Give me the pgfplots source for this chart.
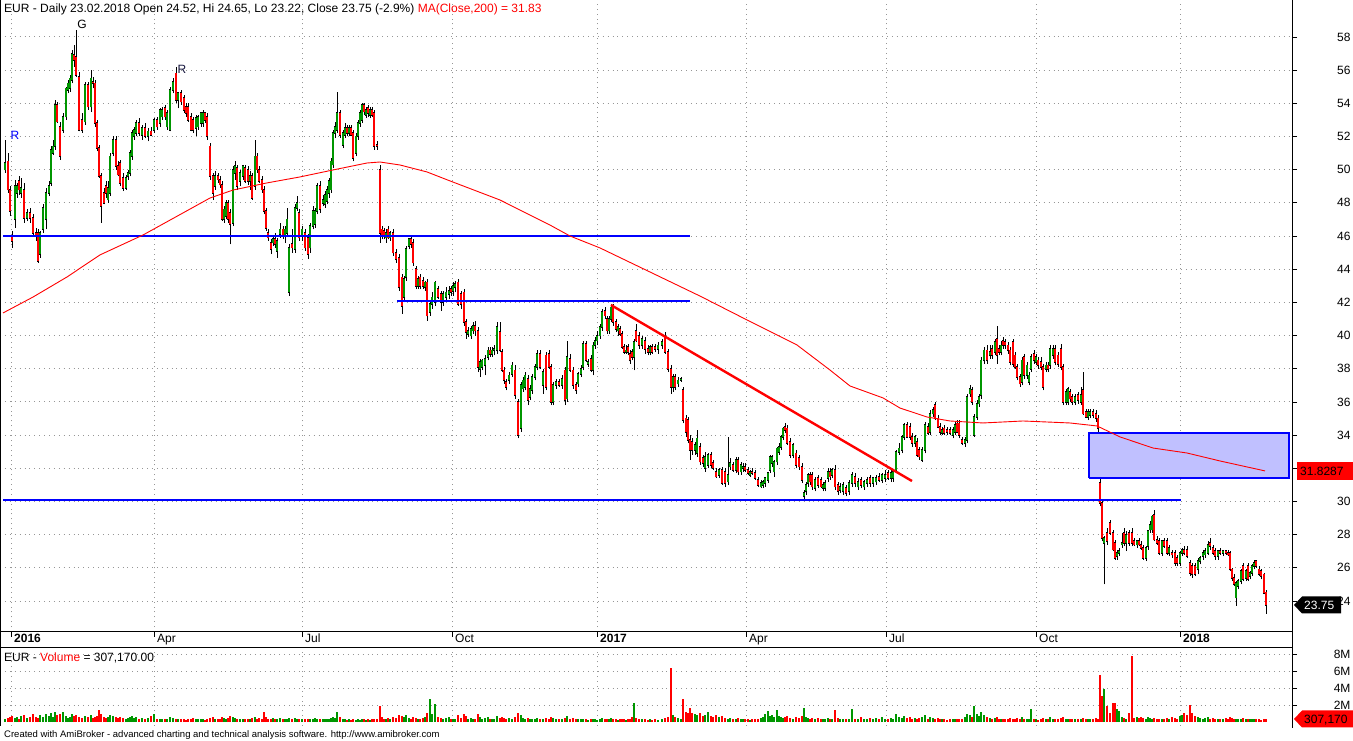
\documentclass[border=0pt]{standalone}
\usepackage{pgfplots}
\pgfplotsset{compat=1.18}
\usepackage{pgfplotstable}
\usepackage{etoolbox}
\usepackage{fontspec}
\setmainfont{Liberation Sans}
\definecolor{upg}{RGB}{0,150,0}
\definecolor{dnr}{RGB}{255,0,0}
\definecolor{boxfill}{RGB}{192,192,255}
\definecolor{gridc}{RGB}{150,150,150}
\definecolor{lblc}{RGB}{20,20,60}
\newcommand\fs{\fontsize{12}{14}\selectfont}
\pgfplotstableread{
x o h l c v
5 50.0 51.8 49.8 50.4 0.3
8 50.5 51.0 48.6 48.8 0.5
10 48.8 49.0 47.2 47.5 0.6
12 46.0 46.3 45.3 45.7 0.7
15 47.0 49.4 46.5 49.0 0.5
17 48.6 49.2 48.3 49.0 0.6
19 49.3 49.6 48.5 48.8 0.4
21 48.6 49.5 48.3 48.9 0.7
24 48.8 49.2 46.8 47.1 0.8
27 47.1 47.6 46.9 47.4 0.5
30 47.4 47.7 46.8 47.1 0.6
33 47.1 47.3 46.0 46.2 0.9
36 46.2 46.5 45.7 46.0 0.6
38 46.2 46.4 44.4 44.5 0.5
40 44.9 46.3 44.7 46.2 0.8
43 46.4 47.9 46.2 47.7 0.6
46 47.0 48.9 46.4 48.6 0.9
49 48.6 49.3 48.4 49.0 0.7
51 49.2 51.4 49.0 51.2 1.0
53 51.0 51.8 50.9 51.4 0.6
55 51.4 54.2 51.2 53.9 1.2
57 53.9 54.1 52.8 52.9 0.8
60 52.6 52.9 50.6 50.8 0.9
63 52.4 53.4 52.2 53.2 1.2
66 53.2 55.0 53.0 54.9 0.7
68 54.8 55.4 54.6 55.2 0.5
70 54.9 55.7 54.7 55.5 0.6
72 55.4 57.2 55.2 57.0 0.9
74 56.9 57.5 56.2 56.6 0.7
76 56.8 58.4 55.6 55.7 0.8
79 55.6 55.9 52.3 52.4 0.6
82 53.0 53.4 52.2 52.4 0.5
85 52.9 55.3 52.7 55.1 0.7
88 55.1 55.3 53.6 53.8 0.6
91 53.8 56.0 53.5 55.5 0.8
93 55.3 55.6 54.9 55.2 0.5
95 55.2 55.4 52.6 52.8 0.6
97 52.8 53.0 51.1 51.3 0.7
99 51.3 51.5 49.5 49.6 1.4
101 49.6 49.8 46.8 47.8 0.9
104 48.6 48.9 47.9 48.0 0.6
106 49.0 49.3 48.3 48.6 0.5
108 48.2 49.3 48.0 48.9 0.6
110 48.6 51.0 48.4 50.8 0.8
113 51.0 52.0 50.8 51.8 0.7
116 51.8 52.0 50.0 50.2 0.6
118 50.2 50.5 49.6 49.7 0.5
120 50.4 50.6 49.0 49.2 0.6
123 49.5 49.8 48.7 48.9 0.5
126 48.9 49.7 48.8 49.5 0.4
128 49.6 50.0 49.4 49.8 0.5
130 49.8 51.2 49.6 51.0 0.6
132 50.8 52.4 50.6 52.2 0.7
134 52.0 52.6 51.8 52.4 0.5
136 52.2 53.0 52.0 52.8 0.6
139 52.8 53.1 52.0 52.2 0.4
142 52.1 52.7 51.8 52.5 0.5
145 52.5 52.8 51.9 52.0 0.4
148 52.0 52.5 51.7 52.3 0.5
151 52.3 52.6 52.0 52.1 0.7
154 52.4 53.1 52.2 53.0 0.9
157 53.0 53.2 52.4 52.6 0.4
160 52.8 53.7 52.6 53.6 0.3
162 53.2 53.8 53.0 53.6 0.4
165 53.7 53.9 53.0 53.2 0.3
167 52.6 53.6 52.4 53.4 0.4
170 52.4 55.0 52.3 54.8 0.6
173 54.8 55.5 54.6 55.3 0.5
176 55.8 56.2 54.0 54.2 0.4
178 54.2 54.7 53.7 54.6 0.3
181 54.6 54.8 53.9 54.1 0.4
184 54.3 54.5 53.4 53.6 0.3
186 53.8 54.0 53.2 53.4 0.2
188 53.8 54.0 52.9 53.0 0.4
191 53.2 53.4 52.3 52.4 0.3
193 53.0 53.2 52.2 52.4 0.5
196 52.5 53.3 52.0 53.1 0.4
198 52.6 53.3 52.4 53.2 0.3
201 52.8 53.5 52.6 53.4 0.4
203 52.8 53.6 52.6 53.4 0.3
205 53.4 53.5 52.8 53.0 0.2
207 53.2 53.4 51.8 52.0 0.4
210 51.4 51.6 49.4 49.6 0.5
213 49.6 49.8 48.2 48.6 0.6
215 49.0 49.9 48.8 49.6 0.4
218 49.6 49.8 49.2 49.4 0.3
220 49.4 49.6 48.9 49.1 0.4
222 49.1 49.3 46.9 47.0 0.6
224 47.0 47.8 46.8 47.6 0.5
226 47.2 48.2 47.0 48.0 0.4
228 48.0 48.2 46.8 47.0 0.5
230 47.4 47.6 45.5 46.7 0.7
233 46.8 50.2 46.6 50.0 0.6
235 49.8 50.5 49.4 50.2 0.5
237 50.1 50.3 48.8 49.0 0.4
240 49.3 50.0 49.0 49.8 0.3
243 49.6 50.3 49.4 50.2 0.4
245 50.1 50.3 49.2 49.3 0.3
248 50.0 50.2 49.1 49.3 0.4
250 49.3 49.9 48.8 49.6 0.3
252 49.6 49.8 48.2 48.3 0.5
255 49.0 51.8 48.8 50.8 0.6
257 50.8 51.0 49.8 50.0 0.4
259 50.0 50.2 49.2 49.3 0.5
262 49.4 49.6 48.6 48.8 0.4
264 48.8 49.0 47.3 47.5 1.2
266 47.5 47.7 46.3 46.5 0.6
268 46.2 46.4 45.7 45.9 0.4
271 45.6 45.8 44.9 45.2 0.3
273 45.6 46.0 45.4 45.8 0.5
275 45.8 46.2 45.3 45.5 0.3
277 45.1 45.9 44.7 45.7 0.4
280 46.1 46.8 45.9 46.4 0.5
283 46.4 46.6 45.8 46.0 0.3
285 46.0 46.6 45.6 46.4 0.4
287 46.2 47.7 46.0 47.0 0.3
289 42.6 45.5 42.4 45.3 0.5
292 45.5 46.4 45.0 45.3 0.4
295 45.2 47.9 45.0 47.7 0.5
297 47.7 48.4 47.5 48.0 0.4
299 47.4 47.6 45.7 45.9 0.3
302 46.0 46.6 45.7 46.4 0.4
305 46.2 46.4 45.1 45.3 0.3
308 45.9 46.1 44.6 44.9 0.4
310 45.3 46.8 45.0 46.6 0.3
313 46.6 47.8 46.4 47.5 0.4
315 46.7 47.7 46.5 47.5 0.5
317 47.5 49.2 47.3 49.0 0.3
320 49.0 49.3 47.4 47.6 0.4
323 48.0 48.5 47.8 48.2 0.3
325 47.9 48.7 47.7 48.5 0.4
327 48.1 49.0 47.9 48.8 0.3
329 48.6 49.5 48.3 49.3 0.4
331 48.8 50.7 48.6 50.5 0.5
333 50.3 52.4 50.1 52.2 0.6
335 52.2 52.9 51.9 52.6 0.5
337 52.4 54.7 52.2 53.4 1.2
340 53.4 53.6 51.9 52.1 0.6
343 51.5 52.4 51.3 52.2 0.4
345 52.1 52.8 51.9 52.5 0.3
347 52.5 52.7 52.0 52.2 0.2
349 52.2 52.7 52.0 52.5 0.3
351 52.5 52.7 52.0 52.1 0.2
353 52.2 52.4 50.5 50.7 0.3
356 51.0 52.2 50.8 52.0 0.2
358 52.0 53.0 51.8 52.8 0.3
360 52.8 53.6 52.6 53.4 0.2
362 53.0 54.0 52.8 53.9 0.4
364 53.9 54.0 53.3 53.5 0.3
366 53.3 53.8 53.1 53.6 0.2
368 53.7 53.9 53.2 53.4 0.3
370 53.3 53.8 53.1 53.6 0.2
372 53.6 53.8 53.2 53.3 0.3
374 53.4 53.6 51.2 51.4 0.4
377 51.5 51.7 51.2 51.4 0.3
380 50.0 50.3 45.6 46.2 1.9
382 46.4 46.6 45.8 46.0 0.6
384 46.3 46.5 45.8 46.0 0.4
386 45.9 46.4 45.6 46.2 0.3
388 46.4 46.6 45.8 45.9 0.5
390 45.9 46.3 45.7 46.2 0.4
393 46.2 46.4 44.8 45.0 0.6
396 45.0 45.2 44.4 44.6 0.5
399 44.7 44.9 42.7 42.9 0.8
402 43.5 43.7 41.3 41.8 0.7
404 42.3 43.6 42.0 43.4 0.6
406 43.5 45.4 43.3 45.2 0.8
409 45.4 45.9 45.2 45.8 0.5
411 45.8 46.0 45.3 45.5 0.4
413 45.6 45.8 44.2 44.4 0.6
416 44.0 44.2 42.8 43.0 0.5
418 43.0 43.6 42.8 43.4 0.4
420 43.5 43.7 42.8 43.0 0.4
423 43.3 43.5 42.8 43.0 0.5
425 42.9 43.3 42.7 43.2 0.6
427 43.2 43.4 40.9 41.2 1.0
430 41.4 42.0 41.2 41.9 2.7
432 41.9 42.6 41.6 42.3 0.9
435 42.0 43.3 41.8 43.2 2.1
438 42.8 43.0 42.2 42.3 0.6
441 42.5 42.7 41.5 42.0 0.5
443 42.0 42.7 41.8 42.5 0.4
446 42.3 42.9 42.0 42.6 0.5
449 42.5 43.0 42.2 42.7 0.6
451 42.8 43.0 42.4 42.6 0.4
453 42.7 43.2 42.4 43.0 0.3
455 42.9 43.3 42.6 43.1 0.4
458 43.2 43.4 41.8 41.9 0.8
461 42.5 42.7 41.6 41.9 0.5
464 42.6 42.8 40.6 40.8 0.9
466 40.8 41.0 39.8 40.2 0.7
468 40.1 40.5 39.9 40.3 0.4
471 40.0 40.6 39.8 40.4 0.5
473 40.3 40.8 40.1 40.6 0.3
475 40.6 40.9 40.0 40.3 0.4
478 40.3 40.5 37.8 38.1 0.9
480 38.0 38.6 37.5 38.4 0.6
482 38.1 38.6 37.9 38.5 0.4
485 38.2 38.8 37.6 38.6 0.5
488 38.7 39.3 38.5 39.1 0.6
490 39.1 39.3 38.7 38.9 0.4
492 38.9 39.3 38.7 39.1 0.3
494 39.1 39.4 38.8 39.2 0.4
497 39.1 40.8 38.9 40.5 0.7
500 40.2 40.8 39.0 39.1 0.5
502 39.0 39.2 37.8 37.9 0.6
504 37.9 38.1 37.1 37.3 0.5
506 37.2 37.4 36.7 36.9 0.4
509 37.3 37.8 37.1 37.6 0.5
512 37.7 38.4 37.5 38.2 0.4
515 37.9 38.2 36.2 36.4 0.6
518 36.0 36.2 33.8 34.0 1.0
521 34.4 37.2 34.2 37.0 0.8
523 36.8 37.5 36.6 37.3 0.5
525 36.9 37.8 36.7 37.6 0.4
528 37.4 37.6 35.8 36.1 0.5
530 36.3 37.0 36.1 36.8 0.4
532 36.7 37.7 36.5 37.5 0.3
535 37.5 38.3 37.3 38.1 0.4
537 38.1 39.1 37.9 38.9 0.5
540 38.9 39.1 38.0 38.1 0.4
543 37.0 38.0 36.5 37.8 0.3
546 38.8 39.0 36.7 36.9 0.5
549 38.9 39.1 38.0 38.1 0.4
551 38.1 38.3 35.8 36.0 0.6
553 36.0 37.2 35.8 37.0 0.5
556 37.0 37.4 36.8 37.2 0.4
559 37.2 37.4 36.9 37.0 0.3
562 37.0 37.6 36.8 37.4 0.4
565 37.9 38.1 35.8 36.1 0.5
567 36.2 39.7 36.0 38.7 0.7
570 38.6 38.9 37.8 37.9 0.4
573 37.9 38.1 36.8 37.0 0.5
576 37.0 37.2 36.5 36.7 0.3
578 37.1 37.8 36.9 37.7 0.4
581 37.7 38.2 37.5 38.0 0.3
583 38.1 39.7 37.9 39.5 0.4
586 39.5 39.7 38.4 38.5 0.3
588 38.3 38.6 38.1 38.4 0.2
591 38.6 38.8 37.8 37.9 0.3
593 37.9 39.6 37.6 39.4 0.4
595 39.4 39.9 39.2 39.7 0.3
597 39.7 40.3 39.4 40.0 0.2
600 40.0 40.7 39.8 40.5 0.4
602 40.5 41.6 40.3 41.4 0.5
605 41.5 41.7 41.0 41.2 0.3
607 41.0 41.2 40.1 40.3 0.4
609 40.3 41.2 40.1 41.0 0.3
611 41.0 41.9 40.8 41.7 0.5
613 41.8 41.9 40.6 40.8 0.4
616 40.8 41.0 40.2 40.4 0.3
618 40.3 40.7 40.0 40.5 0.2
620 40.4 40.6 40.0 40.1 0.3
622 40.1 40.3 39.2 39.3 0.4
624 39.3 39.5 38.9 39.0 0.3
626 39.0 39.4 38.9 39.1 0.2
628 39.3 39.5 38.8 39.0 0.3
630 38.9 39.1 38.3 38.5 0.4
632 39.0 39.2 38.5 38.7 0.6
634 38.7 39.8 37.9 39.6 2.2
636 40.3 40.7 39.6 39.7 0.5
639 40.0 40.2 39.2 39.4 0.3
642 39.4 40.0 39.2 39.8 0.4
645 39.7 39.9 38.9 39.2 0.3
648 39.2 39.4 38.8 39.0 0.2
650 39.0 39.4 38.8 39.3 0.3
652 39.3 39.5 38.9 39.0 0.2
655 39.3 39.5 39.0 39.2 0.3
658 39.2 39.6 38.9 39.4 0.2
662 39.4 39.8 39.2 39.6 0.3
665 40.0 40.2 38.9 39.0 0.5
668 39.0 39.2 37.8 38.0 0.6
671 38.0 38.2 36.5 36.9 6.3
673 36.9 37.7 36.6 37.5 0.8
675 37.5 37.7 36.7 36.9 0.6
678 37.1 37.5 36.9 37.3 0.5
681 37.3 37.5 37.2 37.4 0.3
683 36.7 36.9 34.7 34.9 2.7
686 35.0 35.2 33.9 34.2 1.2
688 34.9 35.1 33.5 33.7 1.0
690 33.7 34.0 32.5 33.1 1.6
692 33.6 33.8 32.8 33.1 1.1
695 33.1 33.6 32.8 33.4 0.9
697 32.9 34.3 32.7 33.8 0.8
700 33.3 33.5 32.2 32.4 1.0
703 32.6 32.8 32.1 32.3 0.7
705 32.0 33.0 31.8 32.7 0.8
708 32.2 32.9 32.0 32.8 1.2
711 32.8 33.0 32.0 32.2 0.7
713 32.3 32.5 31.9 32.0 0.6
716 31.8 32.0 31.4 31.5 0.8
719 31.6 32.0 31.4 31.9 0.6
722 31.9 32.1 31.0 31.1 0.7
725 31.8 32.0 30.9 31.1 0.5
728 31.2 33.9 31.0 31.6 0.4
730 32.1 32.6 31.9 32.3 0.5
733 32.2 32.4 31.8 31.9 0.4
736 31.9 32.7 31.7 32.5 0.3
738 32.5 32.7 31.6 31.8 0.5
741 31.8 32.4 31.6 32.2 0.4
743 32.0 32.3 31.8 32.1 0.3
745 32.1 32.3 31.8 31.9 0.4
748 31.9 32.1 31.6 31.7 0.3
750 31.6 31.9 31.5 31.8 0.2
752 31.8 32.0 31.6 31.7 0.3
755 31.7 31.9 31.3 31.4 0.4
758 31.3 31.5 30.9 31.0 0.3
761 30.9 31.3 30.8 31.1 0.5
763 31.0 31.3 30.8 31.2 0.6
765 31.1 31.5 30.9 31.4 0.9
768 31.3 31.8 31.1 31.7 1.3
770 31.9 32.8 31.7 32.7 0.7
772 32.3 32.8 32.1 32.7 0.8
774 31.8 32.5 31.5 32.4 0.6
777 32.4 33.3 32.2 33.2 1.4
779 33.0 33.5 32.8 33.3 0.7
781 33.3 34.0 33.1 33.9 0.6
783 33.9 34.5 33.7 34.4 0.5
785 34.5 34.7 34.1 34.3 0.6
787 34.4 34.6 33.4 33.5 0.7
790 33.6 33.8 32.6 32.8 0.5
793 32.8 33.5 32.6 33.4 0.4
796 32.9 33.1 32.0 32.2 0.6
799 32.6 32.8 31.9 32.1 0.5
802 32.1 32.3 31.1 31.3 0.7
804 30.3 30.7 30.0 30.5 1.7
806 30.6 31.2 30.4 31.0 0.6
808 31.1 31.7 30.9 31.6 0.5
810 31.6 31.8 31.0 31.2 0.4
812 31.6 31.8 30.7 30.9 0.5
815 30.8 31.5 30.6 31.3 0.4
818 31.4 31.6 30.8 31.0 0.5
821 31.3 31.5 30.8 30.9 0.4
823 30.8 31.2 30.6 31.0 0.3
825 30.8 31.3 30.6 31.1 0.4
828 31.4 32.0 31.2 31.8 0.5
830 31.8 32.0 31.3 31.5 0.3
832 31.6 32.0 31.4 31.9 0.4
835 31.9 32.2 30.7 30.9 1.4
838 31.0 31.2 30.4 30.6 0.5
840 30.7 31.1 30.5 30.9 0.4
843 30.6 31.2 30.4 31.0 0.3
846 30.8 31.0 30.3 30.5 0.4
849 30.6 31.3 30.4 31.1 0.3
852 31.1 31.8 30.9 31.6 1.5
855 31.5 31.7 30.9 31.1 0.3
858 30.9 31.4 30.7 31.2 0.4
861 31.3 31.5 30.8 31.0 0.6
864 30.9 31.3 30.7 31.2 0.4
867 31.1 31.5 30.9 31.3 0.3
870 31.4 31.6 30.9 31.1 0.5
873 31.1 31.5 30.9 31.4 0.4
876 31.2 31.6 31.0 31.4 0.5
879 31.5 31.7 31.2 31.3 0.4
882 31.3 31.7 31.1 31.6 0.6
885 31.4 31.9 31.2 31.6 0.4
888 31.7 31.9 31.3 31.4 0.3
891 31.4 31.9 31.2 31.7 0.5
893 31.4 31.9 31.2 31.8 0.4
896 31.9 33.1 31.7 33.0 0.9
899 33.0 33.5 32.8 33.2 0.6
902 33.1 34.0 32.9 33.9 0.5
904 33.9 34.7 33.7 34.6 0.7
907 34.6 34.8 33.8 33.9 0.5
910 34.5 34.7 33.7 33.9 0.6
912 33.9 34.1 33.3 33.5 0.4
915 33.5 34.0 33.3 33.9 0.5
917 33.6 33.8 32.7 32.8 0.4
919 33.1 33.3 32.5 32.7 0.5
922 32.5 33.3 32.4 33.1 0.6
925 33.1 34.8 32.9 34.6 0.8
928 34.5 34.7 34.0 34.1 0.4
930 34.2 35.5 34.0 35.3 0.6
933 35.3 35.7 35.1 35.5 0.5
935 35.8 36.0 34.9 35.0 0.4
938 35.0 35.2 34.4 34.5 0.5
940 34.5 34.7 34.0 34.2 0.3
942 34.1 34.5 34.0 34.3 0.4
944 34.4 34.6 34.0 34.1 0.3
947 34.3 34.5 34.0 34.2 0.2
950 34.3 34.5 34.0 34.1 0.3
953 34.0 34.5 33.8 34.3 0.4
955 34.2 34.8 34.0 34.6 0.3
957 34.7 34.9 34.1 34.2 0.4
959 34.7 34.9 33.8 34.0 0.3
962 33.7 33.9 33.4 33.5 0.4
965 33.5 33.9 33.3 33.7 0.6
967 33.7 36.5 33.5 36.3 0.9
970 36.5 37.0 36.3 36.8 0.8
972 36.7 36.9 35.8 36.0 0.6
974 34.0 35.3 33.9 35.1 1.9
977 35.1 36.1 34.9 35.9 0.9
979 35.9 36.5 35.7 36.3 0.7
981 36.4 38.7 36.2 38.5 1.2
984 38.5 39.3 38.3 39.1 0.8
987 39.1 39.4 38.3 38.5 0.6
990 38.8 39.4 38.6 39.0 0.5
992 39.2 39.4 38.6 38.8 0.4
995 39.0 39.8 38.8 39.6 0.5
997 39.8 40.6 38.3 38.8 0.6
999 39.2 39.4 38.8 39.0 0.4
1001 39.0 39.7 38.8 39.4 0.3
1003 39.7 39.9 39.2 39.4 0.4
1005 39.6 39.8 39.2 39.4 0.3
1008 39.4 39.6 38.9 39.1 0.4
1010 39.1 39.3 38.2 38.4 0.5
1013 39.6 39.8 38.1 38.3 0.4
1015 38.8 39.0 38.0 38.1 0.3
1017 38.1 38.3 37.3 37.5 0.5
1020 37.5 37.7 36.9 37.1 0.4
1022 37.2 38.7 37.0 38.5 0.6
1024 38.7 38.9 37.4 37.6 0.4
1027 37.6 38.4 37.4 38.2 0.3
1029 37.2 37.8 37.0 37.6 0.4
1031 38.0 38.9 37.8 38.7 1.5
1034 38.9 39.1 38.3 38.5 0.4
1036 38.4 38.9 38.2 38.7 0.3
1038 38.5 38.7 38.0 38.2 0.2
1041 38.4 38.7 37.9 38.1 0.3
1043 38.1 38.3 36.7 36.9 0.5
1046 38.0 38.4 37.8 38.2 0.4
1048 38.2 38.4 37.8 38.0 0.3
1050 38.2 39.4 38.0 39.2 0.6
1053 38.8 39.4 38.6 39.2 0.4
1055 39.2 39.4 38.2 38.4 0.3
1058 38.8 39.0 38.1 38.3 0.4
1061 39.2 39.5 37.9 38.1 0.5
1063 38.1 38.3 35.8 36.0 0.6
1066 36.0 36.8 35.8 36.6 0.4
1068 36.0 36.9 35.8 36.8 0.3
1070 36.6 36.8 36.0 36.2 0.4
1072 36.3 36.5 35.8 36.0 0.3
1075 36.0 36.5 35.8 36.3 0.4
1078 36.4 36.6 35.9 36.1 0.3
1081 36.0 36.9 35.8 36.4 0.4
1083 36.7 37.8 35.2 35.3 0.5
1086 35.4 35.6 35.0 35.1 0.4
1088 35.1 35.6 34.9 35.4 0.3
1090 35.2 35.6 35.0 35.4 0.4
1093 35.4 35.6 35.0 35.2 0.3
1096 35.3 35.5 34.8 35.0 0.5
1098 35.0 35.2 34.2 34.4 0.4
1100 31.1 31.6 29.7 29.9 5.5
1102 29.9 30.1 27.6 27.8 3.0
1104 27.5 27.9 25.0 27.8 3.9
1107 28.1 28.4 27.4 27.6 1.9
1110 28.7 28.9 28.0 28.1 1.0
1113 28.1 28.3 27.0 27.1 2.2
1115 27.5 27.7 26.5 26.6 2.2
1117 26.7 27.1 26.5 26.9 1.5
1119 26.9 27.2 26.7 27.0 1.3
1122 27.4 28.1 27.2 27.5 0.6
1124 28.1 28.4 27.3 27.5 0.5
1126 27.5 28.2 27.0 28.0 0.4
1129 28.1 28.3 27.3 27.5 1.1
1132 28.1 28.4 27.3 27.5 7.8
1134 27.6 27.8 27.3 27.4 0.5
1137 27.4 27.7 27.2 27.6 0.6
1139 27.6 27.8 27.3 27.4 0.5
1141 27.4 27.6 27.1 27.2 0.6
1143 27.2 27.4 26.5 26.6 0.5
1146 26.6 27.3 26.4 27.2 0.4
1148 27.3 28.3 27.1 28.2 0.6
1150 28.3 28.8 28.1 28.6 0.5
1152 28.3 29.2 28.1 29.1 0.4
1154 29.2 29.5 27.6 27.7 0.5
1157 27.7 27.9 27.4 27.5 0.3
1159 27.6 27.8 26.8 26.9 0.4
1162 26.9 27.7 26.7 27.6 0.3
1164 27.6 27.8 27.2 27.3 0.4
1167 27.6 27.8 26.8 26.9 0.5
1169 26.9 27.4 26.7 27.2 0.4
1172 26.9 27.1 26.6 26.8 0.6
1175 26.9 27.1 26.1 26.3 0.5
1177 26.6 26.8 26.1 26.3 0.4
1180 26.3 27.0 26.1 26.9 0.7
1182 26.9 27.2 26.7 27.1 0.8
1184 27.1 27.3 26.8 26.9 1.0
1187 27.1 27.3 26.6 26.7 0.8
1190 26.3 26.5 25.5 25.7 2.0
1192 26.1 26.3 25.4 25.6 1.0
1195 26.1 26.3 25.5 25.6 0.7
1198 25.9 26.6 25.6 26.4 0.6
1200 26.4 26.7 26.2 26.6 0.5
1203 26.7 27.1 26.5 26.9 0.4
1205 26.8 27.2 26.6 27.0 0.5
1208 26.9 27.6 26.8 27.4 0.6
1210 27.5 27.8 27.1 27.3 0.4
1213 27.2 27.4 26.8 26.9 0.5
1215 27.0 27.2 26.5 26.7 0.4
1218 26.7 27.1 26.5 27.0 0.3
1220 27.0 27.2 26.8 26.9 0.4
1223 26.9 27.1 26.7 27.0 0.3
1226 27.0 27.1 26.8 26.9 0.5
1228 26.9 27.1 26.7 26.8 0.4
1230 26.9 27.0 25.8 25.9 0.6
1232 25.9 26.0 25.2 25.4 0.5
1234 25.4 25.6 24.9 25.0 0.4
1236 24.2 25.2 23.7 25.1 0.3
1238 24.9 25.3 24.7 25.2 0.4
1241 25.2 25.9 25.0 25.8 0.3
1243 26.1 26.3 25.2 25.3 0.5
1246 25.4 25.9 25.2 25.8 0.3
1248 26.1 26.3 25.2 25.3 0.4
1250 25.5 25.8 25.3 25.7 0.3
1252 25.7 26.2 25.5 26.1 0.4
1254 26.1 26.5 25.9 26.3 0.3
1256 26.4 26.5 26.0 26.1 0.4
1259 25.9 26.1 25.5 25.6 0.3
1261 25.8 25.9 25.3 25.5 0.2
1264 25.6 25.7 24.4 24.5 0.4
1266 24.52 24.65 23.22 23.75 0.307
}\data
% build one path per layer from the table (vertical segments separated by jumps)
\def\wickpath{}\def\bodyk{}\def\bodyg{}\def\bodyr{}
\pgfplotstablegetrowsof{\data}
\pgfmathtruncatemacro\lastrow{\pgfplotsretval-1}
\pgfplotsforeachungrouped \i in {0,...,\lastrow}{%
  \pgfplotstablegetelem{\i}{x}\of\data\let\cX\pgfplotsretval
  \pgfplotstablegetelem{\i}{o}\of\data\let\cO\pgfplotsretval
  \pgfplotstablegetelem{\i}{h}\of\data\let\cH\pgfplotsretval
  \pgfplotstablegetelem{\i}{l}\of\data\let\cL\pgfplotsretval
  \pgfplotstablegetelem{\i}{c}\of\data\let\cC\pgfplotsretval
  \xappto\wickpath{(\cX,\cL) (\cX,\cH) (\cX,nan) }%
  \ifdim\cC pt<\cO pt
    \pgfmathsetmacro\cB{\cC-0.05}\pgfmathsetmacro\cT{\cO+0.05}%
    \xappto\bodyr{(\cX,\cC) (\cX,\cO) (\cX,nan) }%
  \else
    \pgfmathsetmacro\cB{\cO-0.05}\pgfmathsetmacro\cT{\cC+0.05}%
    \xappto\bodyg{(\cX,\cO) (\cX,\cC) (\cX,nan) }%
  \fi
  \xappto\bodyk{(\cX,\cB) (\cX,\cT) (\cX,nan) }%
}
\pgfplotsset{
  gridstyle/.style={xmajorgrids, ymajorgrids,
    major grid style={gridc, line width=0.9pt, dash pattern=on 0.9pt off 4pt}},
}
\begin{document}
\begin{tikzpicture}
\useasboundingbox (0pt,0pt) rectangle (1353pt,741pt);
\fill[white] (0pt,0pt) rectangle (1353pt,741pt);
\begin{axis}[
  at={(0pt,109pt)}, anchor=south west, scale only axis,
  width=1292pt, height=632pt,
  xmin=0, xmax=1292, ymin=22.131, ymax=60.226,
  axis line style={draw=none},
  ytick={24,26,...,58}, ytick pos=right, yticklabel pos=right,
  xtick={11,154,302,452,597,746,886,1036,1180}, xticklabels={,,,,,,,,}, xtick pos=bottom,
  tick align=outside, major tick length=5pt,
  tick style={black, line width=0.8pt},
  yticklabel style={font=\fs, anchor=east, xshift=57pt},
  /pgf/number format/assume math mode=true,
  unbounded coords=jump,
  gridstyle,
]
\edef\tmp{\noexpand\addplot[black, line width=0.9pt, forget plot] coordinates {\wickpath};}\tmp
\edef\tmp{\noexpand\addplot[black, line width=2.9pt, forget plot] coordinates {\bodyk};}\tmp
\edef\tmp{\noexpand\addplot[upg, line width=1.4pt, forget plot] coordinates {\bodyg};}\tmp
\edef\tmp{\noexpand\addplot[dnr, line width=1.4pt, forget plot] coordinates {\bodyr};}\tmp
% box
\addplot[draw=blue, fill=boxfill, line width=2pt] coordinates {(1089,31.41) (1289,31.41) (1289,34.13) (1089,34.13) (1089,31.41)};
% horizontal lines
\addplot[blue, line width=2pt] coordinates {(3,46.0) (690,46.0)};
\addplot[blue, line width=2pt] coordinates {(397,42.08) (690,42.08)};
\addplot[blue, line width=2pt] coordinates {(3,30.07) (1181,30.07)};
% trend line
\addplot[red, line width=2.4pt] coordinates {(611,41.84) (912,31.23)};
% MA 200
\addplot[red, line width=0.9pt] coordinates {
(3,41.36) (33,42.32) (67,43.53) (100,44.86) (143,46.06) (183,47.39) (210,48.29)
(233,48.77) (267,49.20) (300,49.56) (333,49.98) (367,50.40) (380,50.46) (400,50.28)
(427,49.86) (450,49.32) (500,48.17) (550,46.66) (570,46.0) (600,45.28) (650,43.83)
(700,42.38) (747,40.94) (797,39.43) (830,37.92) (850,36.96) (883,36.24) (900,35.63)
(927,35.09) (950,34.85) (983,34.73) (1023,34.85) (1070,34.73) (1097,34.55)
(1120,33.89) (1153,33.22) (1187,32.92) (1220,32.44) (1265,31.84)};
\node[font=\fs, text=blue, anchor=base] at (axis cs:15,51.79) {R};
\node[font=\fs, text=black, anchor=base] at (axis cs:82,58.48) {G};
\node[font=\fs, text=lblc, anchor=base] at (axis cs:182,55.77) {R};
\end{axis}
\begin{axis}[
  at={(0pt,15pt)}, anchor=south west, scale only axis,
  width=1292pt, height=78pt,
  xmin=0, xmax=1292, ymin=-0.47, ymax=8.706,
  axis line style={draw=none},
  ytick={2,4,6,8}, yticklabels={2M,4M,6M,8M}, ytick pos=right, yticklabel pos=right,
  xtick={11,154,302,452,597,746,886,1036,1180}, xticklabels={,,,,,,,,}, xtick pos=bottom,
  x tick style={draw=none},
  tick align=outside, major tick length=5pt,
  tick style={black, line width=0.8pt},
  yticklabel style={font=\fs, anchor=east, xshift=57pt},
  gridstyle,
]
\addplot[ycomb, upg, line width=2pt, mark=none,
  restrict expr to domain={\thisrow{c}-\thisrow{o}}{0:100}] table[x=x, y=v] {\data};
\addplot[ycomb, dnr, line width=2pt, mark=none,
  restrict expr to domain={\thisrow{c}-\thisrow{o}}{-100:-0.001}] table[x=x, y=v] {\data};
\end{axis}
% frame lines
\draw[black, line width=1pt] (0.5pt,741pt) -- (0.5pt,15pt);
\draw[black, line width=1pt] (1292pt,741pt) -- (1292pt,13pt);
\draw[black, line width=1pt] (0pt,109pt) -- (1292pt,109pt);
\draw[black, line width=1pt] (0pt,93pt) -- (1292pt,93pt);
% date labels and texts
\begin{scope}[every node/.style={font=\fs, anchor=base west, inner sep=0pt}]
\node at (14pt,98pt) {\textbf{2016}};
\node at (157pt,98pt) {Apr};
\node at (305pt,98pt) {Jul};
\node at (455pt,98pt) {Oct};
\node at (600pt,98pt) {\textbf{2017}};
\node at (749pt,98pt) {Apr};
\node at (889pt,98pt) {Jul};
\node at (1039pt,98pt) {Oct};
\node at (1183pt,98pt) {\textbf{2018}};
\node at (4pt,728.3pt) {EUR - Daily 23.02.2018 Open 24.52, Hi 24.65, Lo 23.22, Close 23.75 (-2.9\%) \textcolor{red}{MA(Close,200) = 31.83}};
\node at (4pt,79pt) {EUR - \textcolor{red}{Volume} = 307,170.00};
\node[font=\fontsize{9.5}{10}\selectfont] at (4pt,3pt) {Created with AmiBroker - advanced charting and technical analysis software. http://www.amibroker.com};
\end{scope}
% value tags
\fill[red] (1297pt,261pt) rectangle (1353pt,279pt);
\node[font=\fs, anchor=base west, inner sep=0pt, text=black] at (1300pt,265pt) {31.8287};
\fill[black] (1294pt,136pt) -- (1302pt,144.5pt) -- (1341pt,144.5pt) -- (1341pt,127.5pt) -- (1302pt,127.5pt) -- cycle;
\node[font=\fs, anchor=base west, inner sep=0pt, text=white] at (1304pt,131.5pt) {23.75};
\fill[red] (1294pt,22pt) -- (1302pt,30.5pt) -- (1353pt,30.5pt) -- (1353pt,13.5pt) -- (1302pt,13.5pt) -- cycle;
\node[font=\fs, anchor=base west, inner sep=0pt, text=black] at (1304pt,17.5pt) {307,170};
\end{tikzpicture}
\end{document}
